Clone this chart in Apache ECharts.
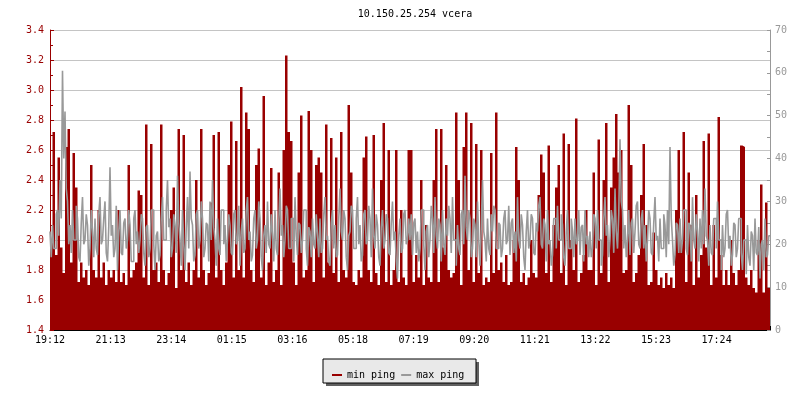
<!DOCTYPE html>
<html>
<head>
<meta charset="utf-8">
<script src="https://cdn.jsdelivr.net/npm/echarts@6/dist/echarts.min.js"></script>
<style>html,body{margin:0;padding:0;background:#fff;}#c{width:800px;height:400px;}</style>
</head>
<body>
<div id="c"></div>
<script>
const titleText = "10.150.25.254 vcera";
const xTickLabels = ["19:12","21:13","23:14","01:15","03:16","05:18","07:19","09:20","11:21","13:22","15:23","17:24"];
const spanMinutes = 1440;    // 24 h
const tickMinutes = 121.2;   // spacing between the time labels
// min ping (ms, left axis), one sample every 5 minutes
const minPing = [
 2.0,2.72,1.9,2.55,1.95,1.78,2.62,2.74,1.85,2.58,2.35,1.72,1.85,1.75,1.8,1.7,2.5,1.8,1.75,2.2,1.75,1.85,1.7,1.8,1.75,1.8,1.72,2.2,1.72,1.78,1.7,2.5,1.75,1.8,1.85,2.33,
 2.3,1.75,2.77,1.7,2.64,1.8,1.85,1.72,2.77,1.8,1.7,1.78,2.2,2.35,1.68,2.74,1.8,2.7,1.72,1.85,1.7,1.8,2.4,1.75,2.74,1.8,1.7,1.78,2.25,2.7,1.75,2.72,1.8,1.7,1.85,2.5,
 2.79,1.75,2.66,1.8,3.02,1.75,2.85,2.74,1.8,1.72,2.5,2.61,1.75,2.96,1.7,1.85,2.48,1.72,1.8,2.45,1.7,2.6,3.23,2.72,2.66,1.85,1.7,2.45,2.83,1.75,1.8,2.86,2.6,1.72,2.5,2.55,
 2.45,1.75,2.77,1.85,2.68,1.78,2.55,1.72,2.72,1.8,1.75,2.9,2.45,1.72,1.7,1.8,1.75,2.55,2.69,1.8,1.72,2.7,1.78,1.7,2.4,2.78,1.72,2.6,1.7,1.8,2.6,1.72,2.2,1.75,1.7,2.6,
 2.6,1.72,1.9,1.75,2.4,1.7,2.1,1.75,1.72,2.4,2.74,1.72,2.74,1.95,2.5,1.8,1.75,1.78,2.85,2.4,1.7,2.62,2.85,1.8,2.78,1.72,2.64,1.78,2.6,1.7,1.75,1.72,2.58,1.78,2.85,1.8,
 1.85,1.72,1.9,1.7,1.72,2.0,2.62,2.4,1.72,1.78,1.7,1.75,2.0,1.78,1.75,2.3,2.57,2.45,1.78,2.63,1.72,2.1,2.35,2.5,1.78,2.71,1.7,2.64,2.0,1.8,2.81,1.72,1.78,1.9,2.2,1.8,
 1.8,2.45,1.7,2.67,1.78,2.4,2.78,1.72,2.35,2.55,2.84,2.45,2.6,1.78,1.8,2.9,2.5,1.72,1.78,1.9,2.3,2.64,2.1,1.7,1.72,2.05,1.8,1.7,1.75,1.68,1.78,1.7,1.75,1.68,2.2,2.6,
 2.0,2.72,1.72,2.45,2.1,1.7,2.3,1.75,1.9,2.66,1.95,2.71,1.7,2.1,1.75,2.82,1.9,1.7,1.8,1.7,2.0,1.78,1.7,1.8,2.63,2.62,1.75,1.7,1.8,1.68,1.65,2.0,2.37,1.65,2.25,1.68
];
// max ping (ms, right axis), one sample every 2.5 minutes
const maxPing = [
 23,17,24.5,19,19,27,28,22,35,26,60.5,40,51,33,30,20,24.5,18,28,21,21,29,26,17,16,25,31,20,21,27,24.5,15,19,28,23,17,26,19,17.5,27,31,20,21,26,30,18,16,24,38,22,24.5,17,19,29,14,23,28,18,17.5,25,26,19,21,28,24.5,16,16,26,28,20,23,18,
 21,27,26,18,15,24,24.5,17,19,28,28,20,14,22,23,16,17.5,26,31,21,21,28,35,24,26,17,19,27,24.5,18,36,25,21,15,28,20,14,24,31,19,37,26,24.5,16,17.5,27,28,19,21,30,26,17,19,25,24.5,16,30,21,35,24,21,15,26,19,17.5,28,28,20,24.5,16,21,27,
 24.5,18,17.5,27,28,20,21,29,15,23,26,18,19,28,31,21,23,16,17.5,26,28,19,21,30,26,17,14,22,24.5,18,30,20,19,27,22,16,28,19,17.5,25,33,22,24.5,17,21,29,28,19,19,26,26,16,31,22,17.5,25,24.5,18,21,28,28,19,15,24,23,17,26,20,19,27,22,17,
 26,18,19,27,31,21,22,16,15,25,28,19,24.5,17,17.5,26,33,23,21,28,26,17,14,22,23,29,28,19,19,26,31,20,24.5,16,17.5,27,28,20,21,29,26,17,33,22,19,27,24.5,17,15,24,28,19,21,27,26,18,17.5,25,30,21,23,16,12,22,26,18,19,27,28,20,21,26,
 21,27,17.5,25,26,18,23,16,19,28,28,20,14,23,24.5,17,21,29,26,18,31,22,19,26,24.5,16,28,20,17.5,26,22,29,26,18,31,21,21,15,24.5,19,17.5,27,28,20,36,24,21,28,26,17,19,26,24.5,17,30,21,15,24,35,23,21,16,26,19,17.5,27,23,29,28,19,19,25,
 24.5,17,19,26,28,20,21,29,17.5,25,26,18,23,16,31,21,19,27,24.5,17,14,23,28,19,21,27,26,18,17.5,25,23,29,31,20,19,26,24.5,16,28,20,21,15,17.5,26,26,19,29,21,21,27,24.5,17,15,23,28,19,19,26,23,17,26,20,21,28,17.5,24,24.5,16,28,20,22,17,
 23,17,19,27,26,19,28,21,21,15,17.5,26,31,22,24.5,17,21,28,26,18,33,23,19,27,44.5,30,28,19,24.5,17,21,28,17.5,25,26,18,23,29,30,20,19,26,28,19,24.5,16,21,28,26,18,17.5,25,31,21,22,16,26,19,19,27,24.5,17,28,20,42.7,26,21,15,17.5,25,24.5,18,
 26,18,21,28,28,19,17.5,25,24.5,16,31,21,19,27,23,16,26,19,28,20,33,22,21,15,24.5,18,17.5,26,26,19,30,21,21,14,24.5,17,19,27,28,19,22,15,17.5,25,24.5,17,19,26,26,18,14,21,21,13,24.5,17,15,23,22,14,26,18,17.5,24,12,20,21,14,26,17,17.5,22
];

const RED = '#990000', GRAY = '#999999', FONT = 'DejaVu Sans Mono';
function toXY(arr, extend){
  const step = spanMinutes / arr.length;
  const d = arr.map((v,i)=>[i*step, v]);
  if (extend) d.push([arr.length*step, arr[arr.length-1]]);
  return d;
}
const chart = echarts.init(document.getElementById('c'), null, {renderer:'canvas'});
chart.setOption({
  animation:false,
  backgroundColor:'#ffffff',
  textStyle:{fontFamily:FONT},
  title:{text:titleText, left:410, textAlign:'center', top:4,
    textStyle:{fontFamily:FONT, fontSize:10, fontWeight:'normal', color:'#000'}},
  grid:{left:50, right:30, top:30, bottom:70},
  legend:{
    left:327, top:365, icon:'rect', itemWidth:10, itemHeight:2, itemGap:6,
    textStyle:{fontFamily:FONT, fontSize:10, color:'#000'},
    data:['min ping','max ping']
  },
  graphic:[
    {type:'rect', z:-1, shape:{x:326, y:362, width:153, height:24}, style:{fill:'#606060'}},
    {type:'rect', z:0, shape:{x:323, y:359, width:153, height:24}, style:{fill:'#e9e9e9', stroke:'#000', lineWidth:1}}
  ],
  xAxis:{
    type:'value', min:0, max:spanMinutes, interval:tickMinutes,
    axisLine:{lineStyle:{color:'#000', width:1}},
    axisTick:{inside:true, length:4, lineStyle:{color:'#000'}},
    axisLabel:{margin:5, color:'#000', fontFamily:FONT, fontSize:10,
      formatter:function(v){ const k=Math.round(v/tickMinutes); return (k<xTickLabels.length && Math.abs(k*tickMinutes-v)<1)?xTickLabels[k]:''; }},
    splitLine:{show:false}
  },
  yAxis:[
    {type:'value', min:1.4, max:3.4, interval:0.2, position:'left',
      axisLine:{show:true, lineStyle:{color:RED}},
      axisTick:{show:true, inside:true, length:4, lineStyle:{color:RED}},
      minorTick:{show:true, splitNumber:2, length:3, lineStyle:{color:RED}},
      axisLabel:{margin:6, color:RED, fontFamily:FONT, fontSize:10, formatter:v=>v.toFixed(1)},
      splitLine:{show:true, lineStyle:{color:'#c4c4c4', width:1}}
    },
    {type:'value', min:0, max:70, interval:10, position:'right',
      axisLine:{show:true, lineStyle:{color:GRAY}},
      axisTick:{show:true, inside:true, length:3, lineStyle:{color:GRAY}},
      minorTick:{show:true, splitNumber:2, length:3, lineStyle:{color:GRAY}},
      axisLabel:{margin:5, color:GRAY, fontFamily:FONT, fontSize:10},
      splitLine:{show:false}
    }
  ],
  series:[
    {name:'min ping', type:'line', yAxisIndex:0, step:'end', symbol:'none', z:2,
      data:toXY(minPing, true), itemStyle:{color:RED},
      lineStyle:{width:0, color:RED}, areaStyle:{color:RED, opacity:1, origin:'start'}},
    {name:'max ping', type:'line', yAxisIndex:1, step:'end', symbol:'none', z:3,
      data:toXY(maxPing, true), itemStyle:{color:GRAY},
      lineStyle:{width:1.6, color:GRAY}}
  ]
});
</script>
</body>
</html>
